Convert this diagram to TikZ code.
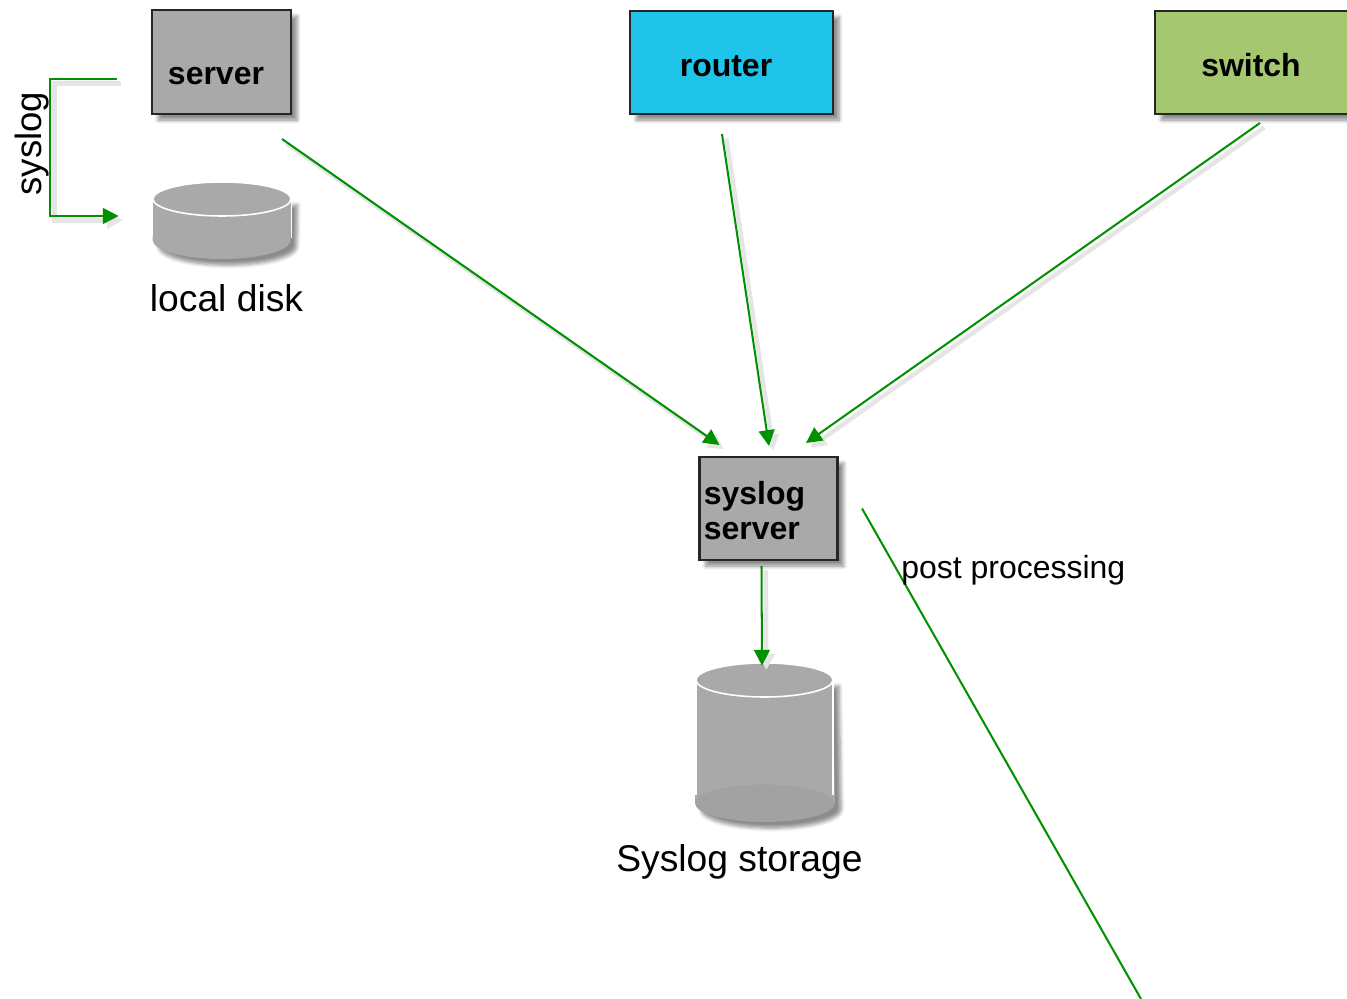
\documentclass[tikz,border=0pt]{standalone}
\usepackage{fontspec}
\setmainfont{Liberation Sans}
\usetikzlibrary{arrows.meta,calc,shadows.blur}
\definecolor{boxgrey}{HTML}{A9A9A9}
\definecolor{routerblue}{HTML}{1FC4E8}
\definecolor{switchgreen}{HTML}{A5C76F}
\definecolor{flowgreen}{HTML}{009000}
\tikzset{
  softshadow/.style={blur shadow={shadow xshift=3.5pt,shadow yshift=-3.5pt,shadow blur steps=6,shadow opacity=45}},
  devbox/.style={draw=black!85,line width=1.15pt,fill=boxgrey,inner sep=0pt,softshadow},
  boxtext/.style={font=\fontsize{18.2}{22}\selectfont\bfseries,inner sep=0pt,align=left},
  caption/.style={font=\fontsize{21.2}{25}\selectfont,inner sep=0pt},
  flow/.style={draw=flowgreen,line width=1.15pt,-{Triangle[length=9pt,width=9pt]},
    preaction={draw=black!10,line width=2.5pt,transform canvas={shift={(2.5pt,-2.5pt)}}}},
  plainflow/.style={draw=flowgreen,line width=1.15pt},
  diskwall/.style={draw=none,fill=boxgrey,softshadow},
  diskedge/.style={draw=white,line width=.9pt},
}
\begin{document}
\begin{tikzpicture}[x=0.02cm,y=-0.02cm]
\useasboundingbox (0,0) rectangle (1347,999);
% boxes along the top
\node [devbox,minimum width=139*0.02cm,minimum height=104*0.02cm] (server) at (221.5,62) {};
\node [boxtext] (server label) at (216,76) {server};
\node [devbox,fill=routerblue,minimum width=203*0.02cm,minimum height=103*0.02cm] (router) at (731.5,62.5) {};
\node [boxtext] (router label) at (726,66) {router};
\node [devbox,fill=switchgreen,minimum width=204*0.02cm,minimum height=103*0.02cm] (switch) at (1257,62.5) {};
\node [boxtext] (switch label) at (1251,65.5) {switch};
\node [devbox,minimum width=138*0.02cm,minimum height=103*0.02cm] (sysserver) at (768.5,508.5) {};
\node [boxtext,anchor=west] (sysserver label) at (703.5,510.5) {syslog\\[-2.5pt]server};
% local disk
\node [inner sep=0pt,minimum width=138*0.02cm,minimum height=78*0.02cm] (disk) at (222,220.5) {};
\path [diskwall] (disk.west |- 0,199) -- (disk.west |- 0,240) arc [start angle=180,end angle=360,x radius=69,y radius=-19] -- (disk.east |- 0,199) -- cycle;
\draw [diskedge] (disk.west |- 0,236) -- (disk.west |- 0,199);
\draw [diskedge] (disk.east |- 0,238) -- (disk.east |- 0,199);
\draw [diskedge,fill=boxgrey] (222,199) ellipse [x radius=69,y radius=17];
\node [caption] (disk label) at (226.5,298) {local disk};
% storage
\node [inner sep=0pt,minimum width=140*0.02cm,minimum height=160*0.02cm] (storage) at (765,742) {};
\path [diskwall] (696,680) -- (695,803) arc [start angle=180,end angle=360,x radius=70,y radius=-19] -- (833,680) -- cycle;
\fill [black!20!boxgrey,opacity=.2] (765,803.5) ellipse [x radius=70,y radius=19];
\draw [diskedge] (696,680) -- (696,795);
\draw [diskedge] (833,680) -- (833,795);
\draw [diskedge,fill=boxgrey] (764.5,680) ellipse [x radius=68.5,y radius=17];
\node [caption] (storage label) at (739.5,862) {Syslog storage};
% connector ends
\coordinate (server out) at ($(server.south east)+(-10,24)$);
\coordinate (router out) at ($(router.south)+(-9.5,19)$);
\coordinate (switch out) at ($(switch.south)+(3,8)$);
\coordinate (in left) at ($(sysserver.north west)+(21,-11)$);
\coordinate (in mid) at ($(sysserver.north)+(.5,-10)$);
\coordinate (in right) at ($(sysserver.north)+(37.5,-13)$);
\coordinate (store out) at ($(sysserver.south)+(-7,5)$);
\coordinate (store in) at ($(storage.north)+(-3,4)$);
\coordinate (post out) at ($(sysserver.east)+(23.5,0)$);
\coordinate (post end) at (1141,999);
\coordinate (log out) at ($(server.west)+(-34,17)$);
\coordinate (log in) at ($(disk.west)+(-34,-4.5)$);
\coordinate (log bend a) at (50,79);
\coordinate (log bend b) at (50,216);
% connectors
\draw [flow] (server out) -- (in left);
\draw [flow] (router out) -- (in mid);
\draw [flow] (switch out) -- (in right);
\draw [flow] (store out) -- (store in);
\draw [plainflow] (post out) -- (post end);
\draw [flow] (log out) -- (log bend a) -- (log bend b) -- (log in);
\node [font=\fontsize{20.8}{24}\selectfont,inner sep=0pt,rotate=90] (log label) at (32,143.5) {syslog};
\node [font=\fontsize{18.2}{22}\selectfont,inner sep=0pt,anchor=west] (post label) at (901,570) {post processing};
\end{tikzpicture}
\end{document}
